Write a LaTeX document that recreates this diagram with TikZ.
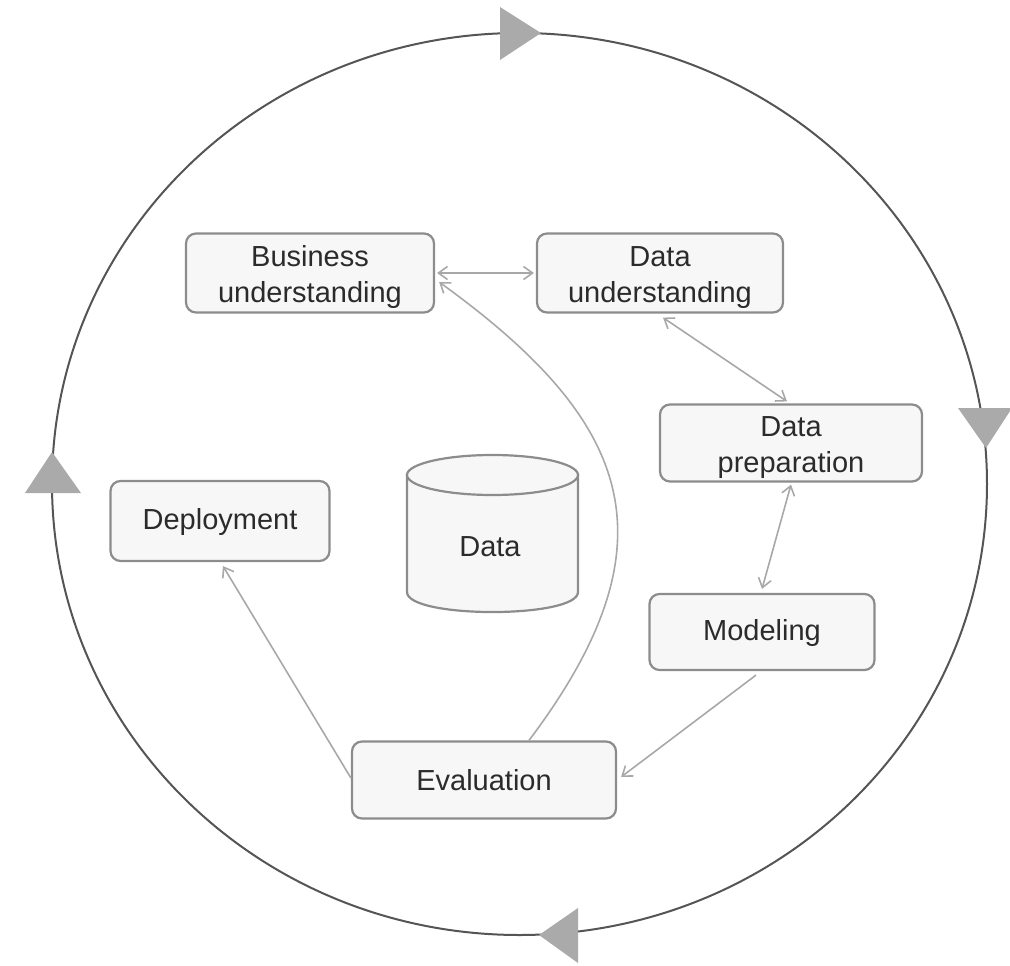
\documentclass[tikz,border=0pt]{standalone}
\usepackage{fontspec}
\setmainfont{Liberation Sans}
\usetikzlibrary{arrows.meta}
\definecolor{circline}{HTML}{555555}
\definecolor{boxdraw}{HTML}{8C8C8C}
\definecolor{boxfill}{HTML}{F7F7F7}
\definecolor{conncol}{HTML}{A8A8A8}
\definecolor{tricol}{HTML}{AAAAAA}
\definecolor{txtcol}{HTML}{2B2B2B}
\newcommand\topstrut{\rule{0pt}{29pt}}
\tikzset{
  stagebox/.style={draw=boxdraw, fill=boxfill, line width=2.2pt, rounded corners=10pt,
    align=center, text=txtcol, font=\fontsize{29}{36}\selectfont, inner sep=0pt},
  conn/.style={draw=conncol, line width=1.6pt, >={Straight Barb[length=9pt,width=13pt]}},
  cyc/.style={draw=circline, line width=2pt},
  tri/.style={fill=tricol, draw=none}
}
\begin{document}
\begin{tikzpicture}[x=1pt,y=-1pt]
\useasboundingbox (0,0) rectangle (1010,966);
% outer cycle
\draw[cyc] (519.5,484) ellipse[x radius=467.5, y radius=451];
\fill[tri] (500,7) -- (500,60) -- (541,33) -- cycle;
\fill[tri] (958,408) -- (1012,408) -- (986,448) -- cycle;
\fill[tri] (25,493) -- (81,493) -- (52,452) -- cycle;
\fill[tri] (578,908) -- (578,963) -- (539,935) -- cycle;
% stages
\node[stagebox, minimum width=248pt, minimum height=79pt] (biz) at (310,273) {\topstrut Business\\understanding};
\node[stagebox, minimum width=246pt, minimum height=79pt] (du) at (660,273) {\topstrut Data\\understanding};
\node[stagebox, minimum width=262pt, minimum height=77pt] (dp) at (791,443) {\topstrut Data\\preparation};
\node[stagebox, minimum width=225pt, minimum height=76pt] (mod) at (762,632) {\rule{0pt}{24pt}Modeling};
\node[stagebox, minimum width=264pt, minimum height=77pt] (ev) at (484,780) {Evaluation};
\node[stagebox, minimum width=219pt, minimum height=80pt] (dep) at (220,521) {\rule{0pt}{24pt}Deployment};
% data cylinder
\path[draw=boxdraw, fill=boxfill, line width=2.2pt]
  (407,475) -- (407,592) .. controls (407,618.7) and (578,618.7) .. (578,592) -- (578,475) -- cycle;
\path[draw=boxdraw, fill=boxfill, line width=2.2pt] (492.5,475) ellipse[x radius=85.5, y radius=20];
\node[text=txtcol, font=\fontsize{29}{36}\selectfont] (data) at (490,547) {Data};
% connectors
\draw[conn, <->] ([xshift=2pt]biz.east) -- ([xshift=-2pt]du.west);
\draw[conn, <->] ([xshift=3pt,yshift=-4pt]du.south) -- ([xshift=-4pt,yshift=2pt]dp.north);
\draw[conn, <->] ([yshift=-2pt]dp.south) -- ([yshift=4pt]mod.north);
\draw[conn, ->] ([xshift=-6pt,yshift=-4pt]mod.south) -- ([xshift=4pt,yshift=3pt]ev.east);
\draw[conn, ->] ([yshift=2pt]ev.west) -- ([xshift=3pt,yshift=-4pt]dep.south);
\draw[conn, ->] ([xshift=45pt]ev.north) .. controls (680,540) and (630,420) .. ([xshift=4pt,yshift=-9pt]biz.east);
\end{tikzpicture}
\end{document}
